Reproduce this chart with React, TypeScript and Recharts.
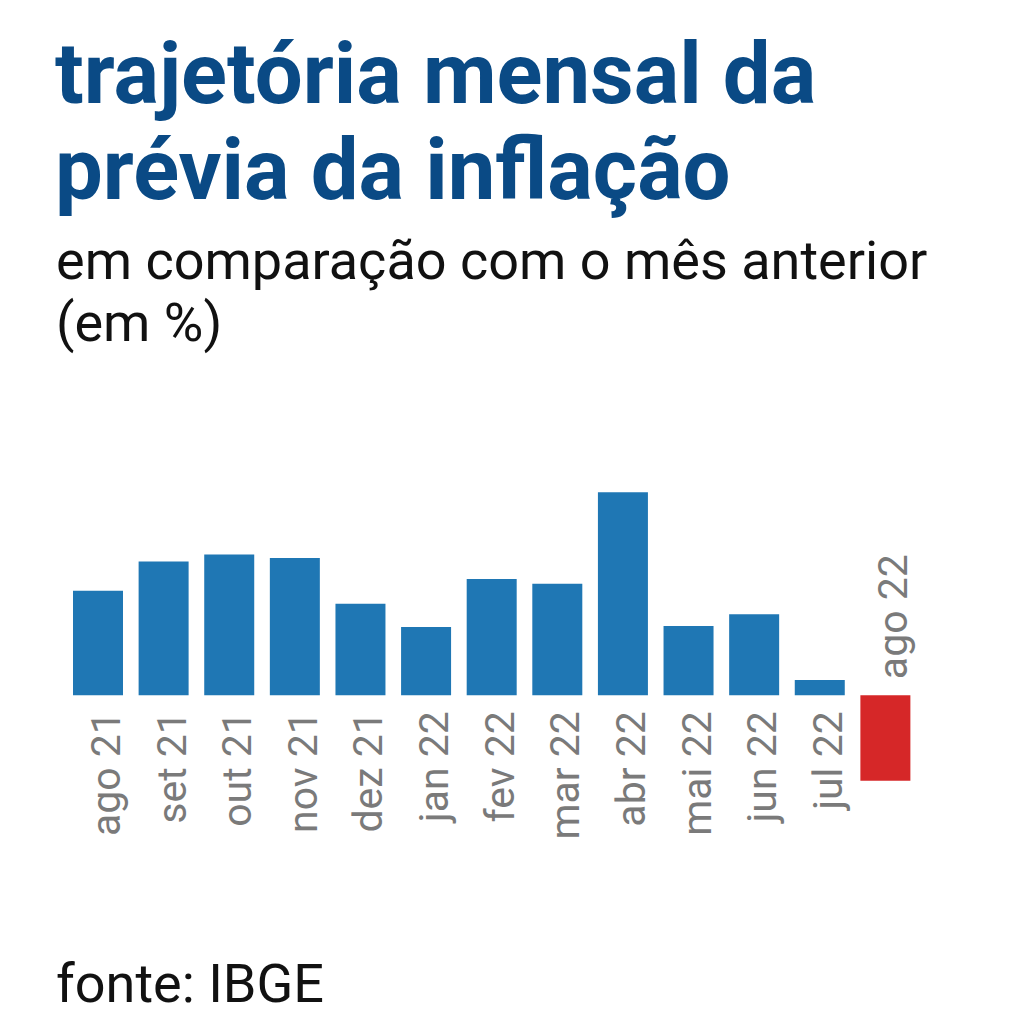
import React from 'react';
import { BarChart, Bar, XAxis, YAxis, Cell, LabelList } from 'recharts';

// IPCA-15, variação mensal (%)
const months = ['ago 21', 'set 21', 'out 21', 'nov 21', 'dez 21', 'jan 22', 'fev 22', 'mar 22', 'abr 22', 'mai 22', 'jun 22', 'jul 22', 'ago 22'];
const values = [0.89, 1.14, 1.2, 1.17, 0.78, 0.58, 0.99, 0.95, 1.73, 0.59, 0.69, 0.13, -0.73];

const data = months.map((month, i) => ({ month, value: values[i] }));

const BLUE = '#1f77b4';
const RED = '#d62728';
const LABEL_GRAY = '#7a7a7a';
const TITLE_BLUE = '#0a4a85';

const MonthLabel = (props: any) => {
  const { x, y, width, height, value, index } = props;
  const v = values[index];
  const cx = x + width / 2;
  const base = v >= 0 ? Math.max(y, y + height) : Math.min(y, y + height);
  const ty = v >= 0 ? base + 16 : base - 16;
  return (
    <text
      transform={`translate(${cx}, ${ty}) rotate(-90)`}
      x={0}
      y={22}
      textAnchor={v >= 0 ? 'end' : 'start'}
      fill={LABEL_GRAY}
      fontSize={41}
      fontFamily="Roboto, sans-serif"
    >
      {value}
    </text>
  );
};

const titleLine: React.CSSProperties = {
  position: 'absolute',
  left: 55,
  fontFamily: 'Roboto, sans-serif',
  fontWeight: 700,
  fontSize: 85,
  lineHeight: '90px',
  color: TITLE_BLUE,
  whiteSpace: 'nowrap',
};

const subLine: React.CSSProperties = {
  position: 'absolute',
  left: 56,
  fontFamily: 'Roboto, sans-serif',
  fontSize: 54,
  lineHeight: '62px',
  color: '#111',
  whiteSpace: 'nowrap',
};

export default function App() {
  return (
    <div style={{ position: 'absolute', left: 0, top: 0, width: 1019, height: 1024, background: '#fff', overflow: 'hidden' }}>
      <div style={{ ...titleLine, top: 29 }}>trajetória mensal da</div>
      <div style={{ ...titleLine, top: 125 }}>prévia da inflação</div>
      <div style={{ ...subLine, top: 230 }}>em comparação com o mês anterior</div>
      <div style={{ ...subLine, top: 292 }}>(em %)</div>
      <div style={{ position: 'absolute', top: 0, left: 0 }}>
        <BarChart
          width={1019}
          height={1024}
          data={data}
          margin={{ top: 484, right: 101, bottom: 235, left: 65 }}
        >
          <XAxis dataKey="month" hide />
          <YAxis hide domain={[-0.8, 1.8]} />
          <Bar dataKey="value" barSize={50} isAnimationActive={false}>
            {data.map((d) => (
              <Cell key={d.month} fill={d.value < 0 ? RED : BLUE} />
            ))}
            <LabelList dataKey="month" content={MonthLabel} />
          </Bar>
        </BarChart>
      </div>
      <div style={{ ...subLine, top: 953 }}>fonte: IBGE</div>
    </div>
  );
}
